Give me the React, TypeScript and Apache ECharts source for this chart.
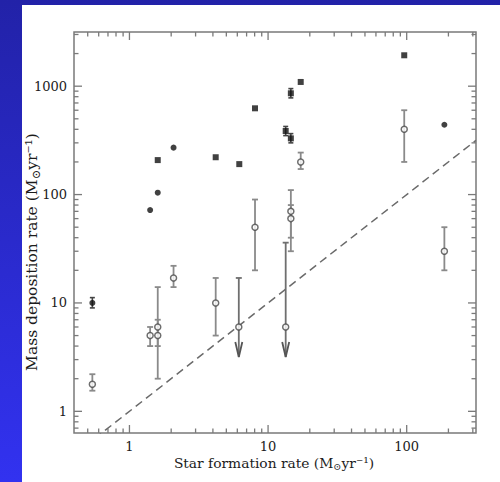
import React, { useEffect, useRef } from "react";
import * as echarts from "echarts";

// axis extents (log10 limits of the original plot)
const X_MIN = Math.pow(10, -0.4);
const X_MAX = Math.pow(10, 2.5);
const Y_MIN = Math.pow(10, -0.2);
const Y_MAX = Math.pow(10, 3.5);

const xMajorTicks = [1, 10, 100];
const xMinorTicks = [0.5, 0.6, 0.7, 0.8, 0.9, 2, 3, 4, 5, 6, 7, 8, 9, 20, 30, 40, 50, 60, 70, 80, 90, 200, 300];
const yMajorTicks = [1, 10, 100, 1000];
const yMinorTicks = [0.7, 0.8, 0.9, 2, 3, 4, 5, 6, 7, 8, 9, 20, 30, 40, 50, 60, 70, 80, 90, 200, 300, 400, 500, 600, 700, 800, 900, 2000, 3000];

// X-ray mass deposition (filled) [SFR, Mdot]
const filledCircles = [[0.54, 10], [1.41, 72], [1.6, 104], [2.08, 271], [187, 441]];
const filledSquares = [[1.6, 208], [4.19, 221], [6.2, 191], [8.05, 625], [13.4, 386], [14.6, 330], [14.6, 860], [17.2, 1094], [96, 1928]];
const filledErrors = [[0.54, 9, 11.2], [13.4, 350, 425], [14.6, 300, 365], [14.6, 780, 950]]; // [x, low, high]

// spectroscopic rates (open) [SFR, Mdot]
const openPoints = [[0.54, 1.78], [1.41, 5], [1.6, 5], [1.6, 6], [2.08, 17], [4.19, 10], [6.15, 6], [8.05, 50], [13.4, 6], [14.6, 70], [14.6, 60], [17.2, 200], [96, 400], [187, 30]];
const openErrors = [[0.54, 1.55, 2.2], [1.41, 4, 6], [1.6, 4, 7], [1.6, 2, 14], [2.08, 14, 22], [4.19, 5, 17], [8.05, 20, 90], [14.6, 30, 110], [14.6, 40, 80], [17.2, 172, 244], [96, 200, 600], [187, 20, 50]];
const upperLimits = [[6.15, 6, 17], [13.4, 6, 36]]; // [x, y, top of bar]

// Mdot = SFR
const equalityLine = [[0.4, 0.4], [316, 316]];

const isPow10 = (v: number) => Math.abs(Math.log10(v) - Math.round(Math.log10(v))) < 1e-6;

const FRAME = "#7a7a7a";
const BAR = "#8a8a8a";
const FONT = "DejaVu Serif";
const INK = "#1c1c1c";

export default function App() {
  const ref = useRef<HTMLDivElement>(null);
  useEffect(() => {
    if (!ref.current) return;
    const chart = echarts.init(ref.current, undefined, { renderer: "svg" });

    const errRender = (color: string, width: number, cap: number) => (params: any, api: any) => {
      const x = api.value(0);
      const lo = api.coord([x, api.value(1)]);
      const hi = api.coord([x, api.value(2)]);
      const style = { stroke: color, lineWidth: width };
      return {
        type: "group",
        children: [
          { type: "line", shape: { x1: lo[0], y1: lo[1], x2: hi[0], y2: hi[1] }, style },
          { type: "line", shape: { x1: lo[0] - cap, y1: lo[1], x2: lo[0] + cap, y2: lo[1] }, style },
          { type: "line", shape: { x1: hi[0] - cap, y1: hi[1], x2: hi[0] + cap, y2: hi[1] }, style },
        ],
      };
    };

    const axisTitleRich = (size: number) => ({
      a: { fontFamily: FONT, fontSize: size, fill: INK, lineHeight: size + 4 },
      s: { fontFamily: FONT, fontSize: size - 4, fill: INK, verticalAlign: "bottom", lineHeight: size + 4 },
    });

    const tickLabel = {
      margin: 7,
      fontFamily: FONT,
      fontSize: 13,
      color: INK,
      showMinLabel: false,
      showMaxLabel: false,
      formatter: (v: number) => (isPow10(v) ? String(Math.round(v)) : ""),
    };

    const option: any = {
      animation: false,
      backgroundColor: "#ffffff",
      grid: { left: 52, right: 24, top: 27, bottom: 49, show: true, borderColor: FRAME, borderWidth: 1.5 },
      xAxis: {
        type: "log",
        logBase: 10,
        min: X_MIN,
        max: X_MAX,
        axisLine: { show: false },
        axisTick: { show: false },
        splitLine: { show: false },
        axisLabel: tickLabel,
      },
      yAxis: {
        type: "log",
        logBase: 10,
        min: Y_MIN,
        max: Y_MAX,
        axisLine: { show: false },
        axisTick: { show: false },
        splitLine: { show: false },
        axisLabel: tickLabel,
      },
      graphic: [
        {
          type: "text",
          x: 252,
          y: 458,
          style: {
            text: "{a|Star formation rate (M}{s|⊙}{a|yr⁻¹)}",
            rich: axisTitleRich(13.8),
            align: "center",
            verticalAlign: "middle",
          },
        },
        {
          type: "text",
          x: 10,
          y: 247,
          rotation: Math.PI / 2,
          style: {
            text: "{a|Mass deposition rate (M}{s|⊙}{a|yr⁻¹)}",
            rich: axisTitleRich(15.5),
            align: "center",
            verticalAlign: "middle",
          },
        },
      ],
      series: [
        // ticks on x (bottom and top)
        {
          type: "custom",
          silent: true,
          data: [...xMajorTicks.map((v) => [v, 1, 1]), ...xMinorTicks.map((v) => [v, 1, 0])],
          encode: { x: 0, y: 1 },
          renderItem: (params: any, api: any) => {
            const cs = params.coordSys;
            const px = api.coord([api.value(0), 1])[0];
            const len = api.value(2) ? 8 : 4.5;
            const style = { stroke: FRAME, lineWidth: 1.3 };
            const b = cs.y + cs.height;
            return {
              type: "group",
              children: [
                { type: "line", shape: { x1: px, y1: b, x2: px, y2: b - len }, style },
                { type: "line", shape: { x1: px, y1: cs.y, x2: px, y2: cs.y + len }, style },
              ],
            };
          },
        },
        // ticks on y (left and right)
        {
          type: "custom",
          silent: true,
          data: [...yMajorTicks.map((v) => [1, v, 1]), ...yMinorTicks.map((v) => [1, v, 0])],
          encode: { x: 0, y: 1 },
          renderItem: (params: any, api: any) => {
            const cs = params.coordSys;
            const py = api.coord([1, api.value(1)])[1];
            const len = api.value(2) ? 8 : 4.5;
            const style = { stroke: FRAME, lineWidth: 1.3 };
            const r = cs.x + cs.width;
            return {
              type: "group",
              children: [
                { type: "line", shape: { x1: cs.x, y1: py, x2: cs.x + len, y2: py }, style },
                { type: "line", shape: { x1: r, y1: py, x2: r - len, y2: py }, style },
              ],
            };
          },
        },
        // equality line
        {
          type: "line",
          data: equalityLine,
          symbol: "none",
          clip: true,
          silent: true,
          lineStyle: { color: "#6a6a6a", width: 1.5, type: [8, 5] },
        },
        // error bars of open points
        {
          type: "custom",
          silent: true,
          data: openErrors,
          encode: { x: 0, y: [1, 2] },
          renderItem: errRender(BAR, 1.8, 3),
        },
        // upper limits
        {
          type: "custom",
          silent: true,
          data: upperLimits,
          encode: { x: 0, y: [1, 2] },
          renderItem: (params: any, api: any) => {
            const x = api.value(0);
            const p = api.coord([x, api.value(1)]);
            const t = api.coord([x, api.value(2)]);
            const tip = p[1] + 30;
            const style = { stroke: "#6f6f6f", lineWidth: 1.8 };
            return {
              type: "group",
              children: [
                { type: "line", shape: { x1: t[0], y1: t[1], x2: p[0], y2: tip }, style },
                { type: "line", shape: { x1: t[0] - 3, y1: t[1], x2: t[0] + 3, y2: t[1] }, style },
                {
                  type: "polyline",
                  shape: { points: [[p[0] - 3.5, tip - 15], [p[0], tip], [p[0] + 3.5, tip - 15]] },
                  style: { stroke: "#555", lineWidth: 1.8, fill: null },
                },
              ],
            };
          },
        },
        // error bars of filled points
        {
          type: "custom",
          silent: true,
          data: filledErrors,
          encode: { x: 0, y: [1, 2] },
          renderItem: errRender("#444", 1.6, 2.5),
        },
        {
          type: "scatter",
          data: openPoints,
          symbol: "circle",
          symbolSize: 6,
          itemStyle: { color: "#ffffff", borderColor: "#4a4a4a", borderWidth: 1.5 },
          z: 5,
        },
        {
          type: "scatter",
          data: filledCircles,
          symbol: "circle",
          symbolSize: 6,
          itemStyle: { color: "#111" },
          z: 6,
        },
        {
          type: "scatter",
          data: filledSquares,
          symbol: "rect",
          symbolSize: 6,
          itemStyle: { color: "#111" },
          z: 6,
        },
      ],
    };
    chart.setOption(option);
    return () => chart.dispose();
  }, []);

  return (
    <div
      style={{
        position: "fixed",
        left: 0,
        top: 0,
        width: 500,
        height: 482,
        background: "linear-gradient(180deg, #2222a8 0%, #3232f0 100%)",
      }}
    >
      <div ref={ref} style={{ position: "absolute", left: 22, top: 5, width: 478, height: 477 }} />
    </div>
  );
}
